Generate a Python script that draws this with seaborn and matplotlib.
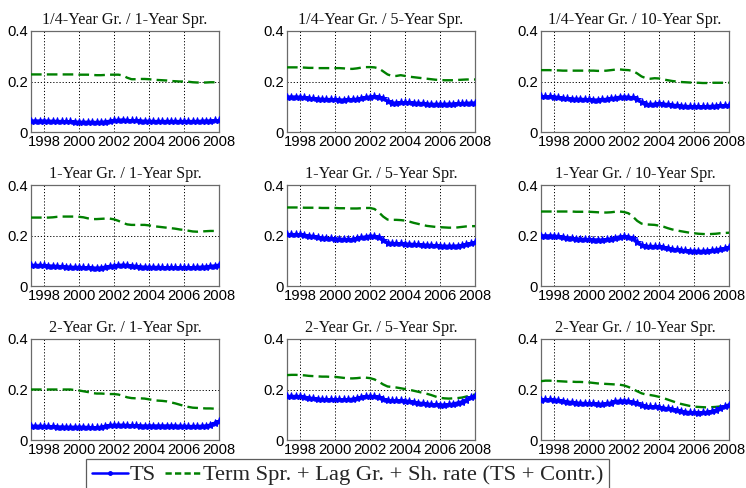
import numpy as np
import pandas as pd
import matplotlib
matplotlib.use("Agg")
import matplotlib.pyplot as plt
from matplotlib.lines import Line2D
import seaborn as sns

# Quarterly dates, 1997Q2 .. 2008Q1
quarters = np.arange(1997.25, 2008.01, 0.25)

titles = [
    "1/4-Year Gr. / 1-Year Spr.", "1/4-Year Gr. / 5-Year Spr.", "1/4-Year Gr. / 10-Year Spr.",
    "1-Year Gr. / 1-Year Spr.", "1-Year Gr. / 5-Year Spr.", "1-Year Gr. / 10-Year Spr.",
    "2-Year Gr. / 1-Year Spr.", "2-Year Gr. / 5-Year Spr.", "2-Year Gr. / 10-Year Spr.",
]

ts_q_1 = [0.045, 0.045, 0.045, 0.045, 0.044, 0.044, 0.043, 0.043, 0.042, 0.042, 0.041, 0.040,
          0.040, 0.040, 0.040, 0.039, 0.040, 0.041, 0.044, 0.046, 0.048, 0.049, 0.047, 0.046,
          0.046, 0.045, 0.044, 0.044, 0.043, 0.043, 0.043, 0.043, 0.043, 0.043, 0.043, 0.043,
          0.043, 0.043, 0.043, 0.044, 0.045, 0.045, 0.046, 0.046]
full_q_1 = [0.228, 0.228, 0.228, 0.228, 0.228, 0.228, 0.228, 0.228, 0.228, 0.228, 0.228, 0.227,
            0.227, 0.227, 0.226, 0.225, 0.225, 0.226, 0.227, 0.227, 0.227, 0.224, 0.215, 0.209,
            0.209, 0.210, 0.210, 0.209, 0.207, 0.206, 0.205, 0.204, 0.202, 0.201, 0.200, 0.200,
            0.199, 0.197, 0.196, 0.196, 0.196, 0.197, 0.197, 0.197]

ts_q_5 = [0.140, 0.140, 0.140, 0.139, 0.137, 0.135, 0.133, 0.132, 0.131, 0.130, 0.130, 0.129,
          0.128, 0.128, 0.129, 0.130, 0.131, 0.134, 0.138, 0.140, 0.141, 0.140, 0.135, 0.122,
          0.116, 0.116, 0.117, 0.117, 0.117, 0.116, 0.115, 0.114, 0.112, 0.111, 0.111, 0.111,
          0.111, 0.112, 0.112, 0.113, 0.114, 0.115, 0.116, 0.116]
full_q_5 = [0.256, 0.256, 0.256, 0.256, 0.255, 0.254, 0.254, 0.253, 0.253, 0.253, 0.253, 0.253,
            0.253, 0.252, 0.250, 0.250, 0.252, 0.255, 0.257, 0.257, 0.256, 0.252, 0.240, 0.228,
            0.222, 0.222, 0.225, 0.222, 0.219, 0.217, 0.215, 0.213, 0.211, 0.209, 0.207, 0.206,
            0.205, 0.205, 0.205, 0.206, 0.207, 0.208, 0.208, 0.208]

ts_q_10 = [0.141, 0.141, 0.141, 0.140, 0.138, 0.135, 0.133, 0.132, 0.131, 0.131, 0.130, 0.129,
           0.128, 0.128, 0.129, 0.131, 0.133, 0.136, 0.139, 0.140, 0.139, 0.137, 0.130, 0.117,
           0.111, 0.110, 0.112, 0.113, 0.112, 0.110, 0.108, 0.106, 0.104, 0.103, 0.102, 0.101,
           0.101, 0.101, 0.102, 0.103, 0.104, 0.105, 0.106, 0.106]
full_q_10 = [0.245, 0.245, 0.245, 0.244, 0.244, 0.243, 0.243, 0.243, 0.243, 0.243, 0.243, 0.243,
             0.243, 0.242, 0.242, 0.243, 0.245, 0.247, 0.248, 0.246, 0.245, 0.242, 0.232, 0.220,
             0.213, 0.211, 0.213, 0.212, 0.208, 0.205, 0.202, 0.200, 0.198, 0.197, 0.196, 0.195,
             0.195, 0.194, 0.194, 0.195, 0.195, 0.195, 0.195, 0.195]

ts_1_1 = [0.083, 0.083, 0.083, 0.082, 0.081, 0.080, 0.079, 0.078, 0.077, 0.076, 0.075, 0.075,
          0.074, 0.074, 0.073, 0.072, 0.073, 0.076, 0.079, 0.081, 0.083, 0.084, 0.083, 0.081,
          0.079, 0.077, 0.076, 0.075, 0.075, 0.075, 0.074, 0.074, 0.074, 0.074, 0.074, 0.074,
          0.074, 0.074, 0.075, 0.076, 0.077, 0.079, 0.081, 0.084]
full_1_1 = [0.271, 0.271, 0.271, 0.271, 0.271, 0.272, 0.274, 0.275, 0.275, 0.275, 0.275, 0.274,
            0.272, 0.268, 0.265, 0.265, 0.266, 0.267, 0.267, 0.264, 0.258, 0.250, 0.244, 0.242,
            0.242, 0.242, 0.242, 0.240, 0.237, 0.235, 0.233, 0.231, 0.229, 0.227, 0.224, 0.222,
            0.219, 0.216, 0.215, 0.216, 0.217, 0.218, 0.218, 0.218]

ts_1_5 = [0.205, 0.205, 0.205, 0.204, 0.202, 0.200, 0.197, 0.194, 0.192, 0.190, 0.189, 0.188,
          0.187, 0.186, 0.185, 0.186, 0.189, 0.193, 0.196, 0.199, 0.198, 0.194, 0.182, 0.172,
          0.170, 0.169, 0.169, 0.168, 0.167, 0.166, 0.165, 0.164, 0.163, 0.162, 0.161, 0.160,
          0.159, 0.159, 0.159, 0.160, 0.162, 0.165, 0.169, 0.174]
full_1_5 = [0.311, 0.311, 0.311, 0.311, 0.310, 0.310, 0.310, 0.310, 0.309, 0.309, 0.309, 0.309,
            0.308, 0.308, 0.307, 0.307, 0.307, 0.308, 0.309, 0.309, 0.305, 0.292, 0.275, 0.263,
            0.262, 0.262, 0.261, 0.259, 0.255, 0.250, 0.246, 0.242, 0.238, 0.236, 0.234, 0.233,
            0.232, 0.231, 0.231, 0.232, 0.234, 0.236, 0.237, 0.237]

ts_1_10 = [0.200, 0.200, 0.200, 0.199, 0.197, 0.195, 0.192, 0.190, 0.188, 0.187, 0.186, 0.185,
           0.184, 0.184, 0.183, 0.185, 0.188, 0.192, 0.196, 0.197, 0.196, 0.191, 0.175, 0.162,
           0.158, 0.158, 0.158, 0.157, 0.155, 0.151, 0.147, 0.145, 0.143, 0.141, 0.140, 0.139,
           0.139, 0.139, 0.140, 0.142, 0.144, 0.147, 0.150, 0.154]
full_1_10 = [0.295, 0.295, 0.295, 0.295, 0.295, 0.295, 0.295, 0.295, 0.294, 0.294, 0.294, 0.294,
             0.293, 0.292, 0.291, 0.291, 0.292, 0.294, 0.295, 0.293, 0.288, 0.275, 0.258, 0.247,
             0.244, 0.243, 0.242, 0.239, 0.235, 0.229, 0.224, 0.220, 0.217, 0.214, 0.211, 0.209,
             0.207, 0.206, 0.205, 0.206, 0.207, 0.209, 0.210, 0.211]

ts_2_1 = [0.056, 0.056, 0.056, 0.055, 0.055, 0.054, 0.053, 0.053, 0.052, 0.052, 0.052, 0.052,
          0.052, 0.051, 0.050, 0.050, 0.052, 0.056, 0.059, 0.060, 0.060, 0.060, 0.059, 0.058,
          0.058, 0.057, 0.057, 0.057, 0.057, 0.057, 0.057, 0.057, 0.057, 0.057, 0.056, 0.056,
          0.055, 0.055, 0.055, 0.056, 0.057, 0.060, 0.068, 0.074]
full_2_1 = [0.200, 0.200, 0.200, 0.200, 0.200, 0.200, 0.200, 0.200, 0.200, 0.200, 0.198, 0.196,
            0.193, 0.190, 0.186, 0.184, 0.184, 0.183, 0.182, 0.182, 0.180, 0.175, 0.169, 0.166,
            0.165, 0.165, 0.164, 0.161, 0.158, 0.156, 0.155, 0.153, 0.149, 0.145, 0.140, 0.135,
            0.131, 0.128, 0.127, 0.126, 0.125, 0.125, 0.124, 0.123]

ts_2_5 = [0.174, 0.174, 0.174, 0.173, 0.171, 0.168, 0.165, 0.163, 0.162, 0.161, 0.161, 0.161,
          0.161, 0.161, 0.161, 0.163, 0.166, 0.170, 0.173, 0.174, 0.173, 0.170, 0.163, 0.158,
          0.157, 0.157, 0.157, 0.156, 0.154, 0.151, 0.148, 0.146, 0.144, 0.142, 0.141, 0.140,
          0.140, 0.141, 0.144, 0.148, 0.152, 0.160, 0.170, 0.176]
full_2_5 = [0.257, 0.258, 0.258, 0.257, 0.256, 0.254, 0.253, 0.252, 0.251, 0.251, 0.250, 0.250,
            0.248, 0.246, 0.244, 0.244, 0.245, 0.247, 0.247, 0.245, 0.240, 0.231, 0.220, 0.212,
            0.210, 0.208, 0.205, 0.202, 0.199, 0.195, 0.191, 0.187, 0.183, 0.178, 0.172, 0.167,
            0.165, 0.164, 0.165, 0.166, 0.168, 0.172, 0.177, 0.180]

ts_2_10 = [0.160, 0.161, 0.161, 0.160, 0.158, 0.155, 0.152, 0.150, 0.148, 0.147, 0.146, 0.145,
           0.145, 0.144, 0.143, 0.145, 0.148, 0.153, 0.156, 0.156, 0.155, 0.151, 0.145, 0.139,
           0.134, 0.133, 0.133, 0.131, 0.128, 0.125, 0.121, 0.118, 0.115, 0.112, 0.110, 0.109,
           0.108, 0.109, 0.111, 0.114, 0.118, 0.125, 0.133, 0.140]
full_2_10 = [0.233, 0.235, 0.235, 0.234, 0.233, 0.232, 0.231, 0.231, 0.230, 0.230, 0.229, 0.228,
             0.226, 0.224, 0.223, 0.222, 0.221, 0.220, 0.219, 0.216, 0.210, 0.202, 0.193, 0.185,
             0.180, 0.178, 0.175, 0.171, 0.166, 0.160, 0.154, 0.148, 0.143, 0.139, 0.135, 0.132,
             0.131, 0.130, 0.129, 0.130, 0.131, 0.133, 0.136, 0.140]

ts_series = [ts_q_1, ts_q_5, ts_q_10, ts_1_1, ts_1_5, ts_1_10, ts_2_1, ts_2_5, ts_2_10]
full_series = [full_q_1, full_q_5, full_q_10, full_1_1, full_1_5, full_1_10,
               full_2_1, full_2_5, full_2_10]

x_ticks = [1998, 2000, 2002, 2004, 2006, 2008]
x_tick_labels = ["1998", "2000", "2002", "2004", "2006", "2008"]
y_ticks = [0, 0.2, 0.4]
y_tick_labels = ["0", "0.2", "0.4"]

label_ts = "TS"
label_full = "Term Spr. + Lag Gr. + Sh. rate (TS + Contr.)"

sns.set_theme(style="white")
plt.rcParams["font.family"] = ["Liberation Sans", "DejaVu Sans"]

W, H = 746, 488
fig = plt.figure(figsize=(W / 100, H / 100), dpi=100)

col_left = [31, 287, 541]
row_top = [31, 185, 339]
ax_w, ax_h = 188, 101

BLUE = "#0000ff"
GREEN = "#008000"
serif = ["Liberation Serif", "DejaVu Serif"]

for k in range(9):
    r, c = divmod(k, 3)
    left = col_left[c] / W
    bottom = 1 - (row_top[r] + ax_h) / H
    ax = fig.add_axes([left, bottom, ax_w / W, ax_h / H])
    df = pd.DataFrame({"date": quarters, "ts": ts_series[k], "full": full_series[k]})
    sns.lineplot(data=df, x="date", y="full", ax=ax, color=GREEN, linestyle=(0, (4.5, 2.2)),
                 linewidth=1.7, zorder=3)
    sns.lineplot(data=df, x="date", y="ts", ax=ax, color=BLUE, linewidth=1.9, marker="*",
                 markersize=6, markeredgewidth=0.7, markeredgecolor=BLUE, zorder=4)
    ax.set_xlim(1997.25, 2008)
    ax.set_ylim(0, 0.4)
    ax.set_xticks(x_ticks)
    ax.set_xticklabels(x_tick_labels)
    ax.set_yticks(y_ticks)
    ax.set_yticklabels(y_tick_labels)
    ax.set_xlabel("")
    ax.set_ylabel("")
    ax.grid(True, color="black", linestyle=(0, (1.2, 2.0)), linewidth=0.7)
    ax.tick_params(axis="both", length=0, labelsize=10.6, colors="black", pad=2)
    for s in ax.spines.values():
        s.set_color("#6a6a6a")
        s.set_linewidth(0.9)
    ax.set_title(titles[k], family=serif, fontsize=11.6, color="#111111", pad=5)

handles = [
    Line2D([], [], color=BLUE, linewidth=1.8, marker=".", markersize=5),
    Line2D([], [], color=GREEN, linewidth=1.8, linestyle=(0, (2.5, 1.3))),
]
leg = fig.legend(handles, [label_ts, label_full], loc="upper left",
                 bbox_to_anchor=(86 / W, 1 - 459 / H), ncol=2, frameon=True, fancybox=False,
                 prop={"family": serif, "size": 16.2}, handlelength=1.6, handletextpad=0.1,
                 columnspacing=0.4, borderpad=0.25, borderaxespad=0)
leg.get_frame().set_edgecolor("#333333")
leg.get_frame().set_linewidth(0.9)

fig.savefig("out.png", dpi=100)
